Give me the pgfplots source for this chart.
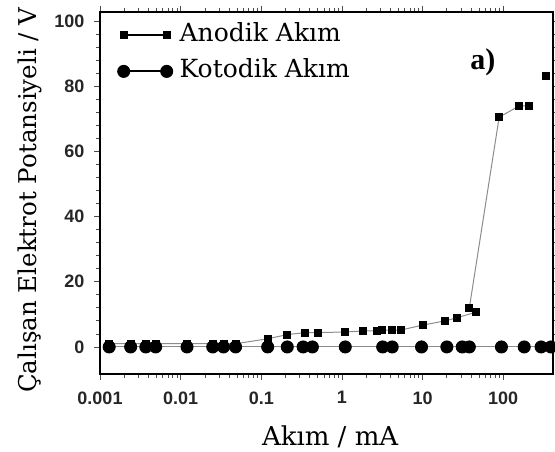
\documentclass[border=0pt]{standalone}
\usepackage{fontspec}
\setmainfont{DejaVu Serif}
\newfontfamily\ticksf{Liberation Sans}
\newfontfamily\labtimes{Liberation Serif}
\usepackage{pgfplots}
\pgfplotsset{compat=1.18}

\begin{document}
\begin{tikzpicture}
\useasboundingbox (-100pt,-78pt) rectangle (455pt,374pt);
\begin{axis}[
  at={(0,0)}, anchor=south west,
  scale only axis, width=453pt, height=362pt,
  xmode=log, xmin=0.001, xmax=414, ymin=-8.3, ymax=102.8,
  xtick={0.001,0.01,0.1,1,10,100},
  xticklabels={0.001,0.01,0.1,1,10,100},
  minor xtick={},
  ytick={0,20,40,60,80,100},
  minor y tick num=4,
  tick align=outside,
  major tick length=6pt, minor tick length=4pt,
  tick style={black!70, line width=0.8pt},
  axis line style={line width=2.5pt},
  tick label style={font=\ticksf\bfseries\fontsize{18}{20}\selectfont, text=black!85},
  /pgf/number format/assume math mode=true,
  xticklabel style={yshift=-8pt},
  yticklabel style={xshift=-6pt},
  xlabel={Akım / mA},
  ylabel={Çalışan Elektrot Potansiyeli / V},
  xlabel style={font=\fontsize{26}{30}\selectfont, at={(axis description cs:0.508,-0.174)}, anchor=center},
  ylabel style={font=\fontsize{24.5}{26}\selectfont, at={(axis description cs:-0.1545,0.48)}, anchor=center, rotate=0},
  legend style={at={(axis description cs:0.032,0.976)}, anchor=north west, draw=none, fill=none,
    font=\fontsize{25}{28}\selectfont, row sep=11pt,
    nodes={inner sep=1pt, text height=18pt, text depth=5pt},
    /tikz/every odd column/.append style={column sep=6pt}},
  legend cell align=left,
  legend image code/.code={
    \draw[#1, mark=none, draw=black, line width=1.8pt] (0pt,0pt) -- (43pt,0pt);
    \draw[#1, only marks, draw=black] plot coordinates {(0pt,0pt) (43pt,0pt)};
  },
]
% anodik
\addplot[black!45, line width=1pt, mark=square*, mark size=3.5pt,
  mark options={black, solid}] coordinates {
  (0.0013,1)(0.0024,1)(0.0037,1)(0.0049,1)(0.012,1)(0.025,1)(0.034,1)(0.048,1)
  (0.12,2.5)(0.21,3.8)(0.35,4.4)(0.5,4.4)(1.1,4.6)(1.8,4.9)(2.7,4.9)
  (3.1,5.2)(4.2,5.2)(5.4,5.2)(10,6.7)(19,8)(27,9)(46,10.7)(38,12)
  (89,70.5)(158,74)(209,74)};
\addlegendentry{Anodik Akım}
% kotodik
\addplot[black!45, line width=1pt, mark=*, mark size=6pt,
  mark options={black, solid}] coordinates {
  (0.0013,0)(0.0024,0)(0.0037,0)(0.0049,0)(0.012,0)(0.025,0)(0.034,0)(0.048,0)
  (0.12,0)(0.21,0)(0.33,0)(0.43,0)(1.1,0)(3.2,0)(4.2,0)(9.7,0)(20,0)(31,0)
  (38,0)(95,0)(182,0)(295,0)(390,0)};
\addlegendentry{Kotodik Akım}
\addplot[only marks, mark=square*, mark size=3.5pt, black, forget plot] coordinates {(340,83.4)};
\node[font=\labtimes\bfseries\fontsize{30}{32}\selectfont] at (axis cs:56,87.4) {a)};
\end{axis}
\end{tikzpicture}
\end{document}
